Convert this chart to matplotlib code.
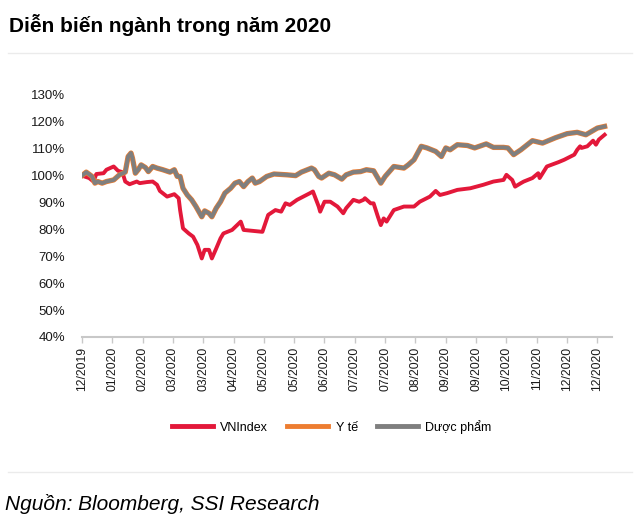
import matplotlib
matplotlib.use("Agg")
import matplotlib.pyplot as plt
import matplotlib.dates as mdates
import pandas as pd
from matplotlib.lines import Line2D

plt.rcParams["font.family"] = ["Liberation Sans", "DejaVu Sans"]

# VNIndex, rebased to 100 at 31/12/2019
vn_dates = [
    "2019-12-31", "2020-01-05", "2020-01-08", "2020-01-10", "2020-01-15", "2020-01-17",
    "2020-01-22", "2020-01-25", "2020-01-28", "2020-01-30", "2020-02-02", "2020-02-07",
    "2020-02-09", "2020-02-14", "2020-02-18", "2020-02-21", "2020-02-23", "2020-02-28",
    "2020-03-04", "2020-03-07", "2020-03-08", "2020-03-10", "2020-03-14", "2020-03-17",
    "2020-03-20", "2020-03-23", "2020-03-25", "2020-03-28", "2020-03-30", "2020-04-02",
    "2020-04-05", "2020-04-07", "2020-04-13", "2020-04-19", "2020-04-21", "2020-05-04",
    "2020-05-08", "2020-05-13", "2020-05-17", "2020-05-20", "2020-05-23", "2020-05-28",
    "2020-06-06", "2020-06-08", "2020-06-12", "2020-06-13", "2020-06-16", "2020-06-20",
    "2020-06-25", "2020-06-29", "2020-07-01", "2020-07-06", "2020-07-10", "2020-07-13",
    "2020-07-14", "2020-07-18", "2020-07-20", "2020-07-23", "2020-07-25", "2020-07-27",
    "2020-07-29", "2020-08-03", "2020-08-10", "2020-08-17", "2020-08-21", "2020-08-28",
    "2020-09-01", "2020-09-04", "2020-09-09", "2020-09-16", "2020-09-25", "2020-10-04",
    "2020-10-11", "2020-10-18", "2020-10-20", "2020-10-24", "2020-10-26", "2020-10-30",
    "2020-11-01", "2020-11-07", "2020-11-11", "2020-11-12", "2020-11-17", "2020-11-25",
    "2020-11-29", "2020-12-06", "2020-12-08", "2020-12-10", "2020-12-11", "2020-12-15",
    "2020-12-19", "2020-12-21", "2020-12-23", "2020-12-27",
]
vn_values = [
    100.0, 99.1, 97.8, 100.6, 100.9, 102.2,
    103.4, 101.8, 101.3, 97.8, 96.8, 97.8,
    97.2, 97.6, 97.8, 96.6, 94.3, 92.2,
    93.1, 91.6, 87.2, 80.4, 78.5, 77.3,
    74.2, 69.2, 72.4, 72.4, 69.2, 72.9,
    76.7, 78.5, 79.8, 82.9, 79.8, 79.1,
    85.4, 87.2, 86.6, 89.7, 89.1, 91.0,
    93.5, 94.1, 88.5, 86.6, 90.3, 90.3,
    88.5, 86.0, 87.9, 91.0, 90.3, 91.0,
    91.6, 89.7, 89.7, 84.7, 81.6, 84.1,
    82.9, 87.2, 88.5, 88.5, 90.3, 92.2,
    94.3, 92.8, 93.5, 94.7, 95.3, 96.6,
    97.8, 98.4, 100.3, 98.4, 95.9, 97.2,
    97.8, 99.1, 100.9, 99.1, 103.4, 105.0,
    105.9, 107.8, 109.6, 110.9, 110.3, 110.9,
    113.0, 111.5, 113.4, 115.2,
]

# Dược phẩm and Y tế (the two lines overlap in the chart)
dp_dates = [
    "2019-12-31", "2020-01-03", "2020-01-07", "2020-01-09", "2020-01-11", "2020-01-14",
    "2020-01-17", "2020-01-22", "2020-01-26", "2020-01-30", "2020-02-01", "2020-02-03",
    "2020-02-04", "2020-02-06", "2020-02-08", "2020-02-10", "2020-02-13", "2020-02-15",
    "2020-02-18", "2020-02-21", "2020-02-25", "2020-03-01", "2020-03-04", "2020-03-06",
    "2020-03-08", "2020-03-10", "2020-03-13", "2020-03-16", "2020-03-19", "2020-03-23",
    "2020-03-25", "2020-03-28", "2020-03-30", "2020-04-02", "2020-04-05", "2020-04-08",
    "2020-04-12", "2020-04-15", "2020-04-18", "2020-04-21", "2020-04-24", "2020-04-27",
    "2020-04-29", "2020-05-02", "2020-05-07", "2020-05-12", "2020-05-21", "2020-05-27",
    "2020-05-31", "2020-06-07", "2020-06-09", "2020-06-12", "2020-06-14", "2020-06-19",
    "2020-06-23", "2020-06-28", "2020-07-01", "2020-07-06", "2020-07-11", "2020-07-15",
    "2020-07-20", "2020-07-25", "2020-07-28", "2020-08-03", "2020-08-10", "2020-08-13",
    "2020-08-17", "2020-08-22", "2020-08-26", "2020-09-01", "2020-09-05", "2020-09-08",
    "2020-09-11", "2020-09-16", "2020-09-23", "2020-09-28", "2020-10-06", "2020-10-11",
    "2020-10-18", "2020-10-21", "2020-10-25", "2020-10-30", "2020-11-07", "2020-11-14",
    "2020-11-23", "2020-12-01", "2020-12-08", "2020-12-14", "2020-12-22", "2020-12-27",
]
duoc_pham_values = [
    100.0, 101.3, 99.7, 97.2, 97.8, 97.2,
    97.8, 98.4, 100.3, 101.3, 107.1, 108.4,
    106.5, 100.9, 102.2, 104.0, 103.0, 101.5,
    103.4, 102.8, 102.2, 101.3, 102.2, 99.7,
    99.7, 95.3, 92.8, 91.0, 88.5, 84.7,
    86.9, 86.0, 84.7, 87.9, 90.3, 93.5,
    95.3, 97.2, 97.8, 95.9, 97.8, 99.1,
    97.2, 97.8, 99.7, 100.6, 100.3, 100.0,
    101.3, 102.8, 102.2, 99.7, 99.1, 100.9,
    100.3, 98.7, 100.3, 101.3, 101.5, 102.2,
    101.8, 97.2, 99.7, 103.4, 102.8, 104.0,
    105.9, 110.9, 110.3, 109.0, 107.1, 110.3,
    109.6, 111.5, 111.2, 110.3, 111.8, 110.5,
    110.5, 110.3, 107.8, 109.6, 113.0, 112.1,
    114.1, 115.6, 116.1, 115.2, 117.7, 118.3,
]
y_te_values = list(duoc_pham_values)

series_names = ["VNIndex", "Y tế", "Dược phẩm"]
series_colors = ["#E3183A", "#ED7D31", "#7F7F7F"]

tick_dates = pd.date_range("2019-12-31", periods=18, freq="21D")

fig = plt.figure(figsize=(6.4, 5.29), dpi=100)
ax = fig.add_axes([0.128, 0.363, 0.828, 0.4575])

vn_x = pd.to_datetime(vn_dates)
dp_x = pd.to_datetime(dp_dates)
ax.plot(vn_x, [v / 100 for v in vn_values], color=series_colors[0], lw=2.8,
        solid_joinstyle="round", zorder=3)
ax.plot(dp_x, [v / 100 for v in y_te_values], color=series_colors[1], lw=3.8,
        solid_joinstyle="round", zorder=4)
ax.plot(dp_x, [v / 100 for v in duoc_pham_values], color=series_colors[2], lw=2.8,
        solid_joinstyle="round", zorder=5)

ax.set_xlim(pd.Timestamp("2019-12-31"), pd.Timestamp("2021-01-01"))
ax.set_ylim(0.4, 1.3)
ax.set_yticks([0.4 + 0.1 * i for i in range(10)])
ax.set_yticklabels([f"{40 + 10 * i}%" for i in range(10)])
ax.set_xticks(tick_dates)
ax.xaxis.set_major_formatter(mdates.DateFormatter("%m/%Y"))

for s in ["top", "right", "left"]:
    ax.spines[s].set_visible(False)
ax.spines["bottom"].set_color("#C8C8C8")
ax.spines["bottom"].set_linewidth(1.5)
ax.tick_params(axis="y", length=0, pad=12, labelsize=9.5, labelcolor="#1a1a1a")
ax.tick_params(axis="x", length=4, width=1, color="#C8C8C8", pad=3,
               labelsize=8.8, labelrotation=90, labelcolor="#1a1a1a")

handles = [Line2D([0], [0], color=c, lw=3.5) for c in series_colors]
fig.legend(handles, series_names, loc="center", bbox_to_anchor=(0.518, 0.193),
           ncol=3, frameon=False, fontsize=9, handlelength=3.3,
           handletextpad=0.6, columnspacing=1.5)

fig.text(0.014, 0.952, "Diễn biến ngành trong năm 2020", fontsize=15,
         fontweight="bold", va="center", ha="left")
fig.text(0.008, 0.047, "Nguồn: Bloomberg, SSI Research", fontsize=15,
         fontstyle="italic", va="center", ha="left")

for yl in [1 - 53 / 529, 1 - 472 / 529]:
    fig.add_artist(Line2D([0.012, 0.988], [yl, yl], color="#EBEBEB", lw=1.0))

fig.savefig("out.png", dpi=100)
